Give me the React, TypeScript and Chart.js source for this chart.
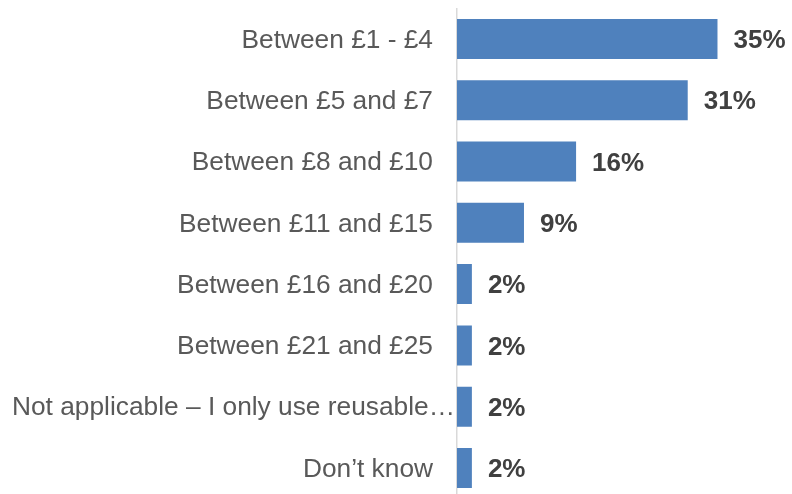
import React, { useEffect, useRef } from "react";
import { Chart, registerables } from "chart.js";

Chart.register(...registerables);

const categories = [
  "Between £1 - £4",
  "Between £5 and £7",
  "Between £8 and £10",
  "Between £11 and £15",
  "Between £16 and £20",
  "Between £21 and £25",
  "Not applicable – I only use reusable…",
  "Don’t know",
];
const values = [35, 31, 16, 9, 2, 2, 2, 2];
const valueLabels = ["35%", "31%", "16%", "9%", "2%", "2%", "2%", "2%"];

const FONT = '"Liberation Sans", Arial, sans-serif';

const labelPlugin = {
  id: "customLabels",
  afterDraw(chart: any) {
    const ctx = chart.ctx;
    const area = chart.chartArea;
    const yScale = chart.scales.y;
    const meta = chart.getDatasetMeta(0);
    ctx.save();
    ctx.textBaseline = "middle";
    // category labels
    ctx.font = `26.3px ${FONT}`;
    ctx.fillStyle = "#595959";
    categories.forEach((c, i) => {
      const y = yScale.getPixelForValue(i) + 1.5;
      const w = ctx.measureText(c).width;
      const xEnd = area.left - 24;
      if (xEnd - w < 12) {
        ctx.textAlign = "left";
        ctx.fillText(c, 12, y);
      } else {
        ctx.textAlign = "right";
        ctx.fillText(c, xEnd, y);
      }
    });
    // value labels
    ctx.font = `bold 26px ${FONT}`;
    ctx.fillStyle = "#404040";
    ctx.textAlign = "left";
    meta.data.forEach((bar: any, i: number) => {
      ctx.fillText(valueLabels[i], bar.x + 16, bar.y + 2);
    });
    ctx.restore();
  },
};

export default function App() {
  const ref = useRef<HTMLCanvasElement | null>(null);
  useEffect(() => {
    if (!ref.current) return;
    const chart = new Chart(ref.current, {
      type: "bar",
      data: {
        labels: categories,
        datasets: [
          {
            data: values,
            backgroundColor: "#4F81BD",
            borderWidth: 0,
            barPercentage: 0.653,
            categoryPercentage: 1,
          },
        ],
      },
      options: {
        indexAxis: "y",
        animation: false,
        responsive: false,
        maintainAspectRatio: false,
        layout: { padding: { top: 8.35, bottom: 1.4, left: 0, right: 37.3 } },
        plugins: { legend: { display: false }, tooltip: { enabled: false } },
        scales: {
          x: { display: false, min: 0, max: 40 },
          y: {
            grid: { display: false, drawTicks: false },
            border: { display: true, color: "#D9D9D9", width: 1.5 },
            ticks: { display: false },
            afterFit(scale: any) {
              scale.width = 457;
            },
          },
        },
      },
      plugins: [labelPlugin],
    });
    return () => chart.destroy();
  }, []);
  return (
    <div
      style={{
        position: "absolute",
        left: 0,
        top: 0,
        width: 792,
        height: 494,
        overflow: "hidden",
        background: "#fff",
      }}
    >
      <canvas ref={ref} width={792} height={500} style={{ display: "block" }} />
    </div>
  );
}
